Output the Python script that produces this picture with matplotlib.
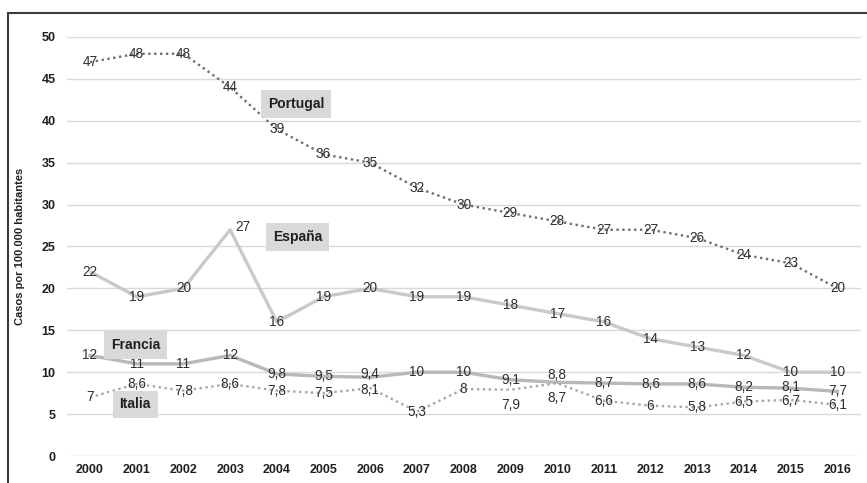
import numpy as np
import matplotlib.pyplot as plt
from matplotlib.lines import Line2D

plt.rcParams['font.family'] = ['Liberation Sans', 'DejaVu Sans']

years = ['2000', '2001', '2002', '2003', '2004', '2005', '2006', '2007', '2008',
         '2009', '2010', '2011', '2012', '2013', '2014', '2015', '2016']
portugal = [47, 48, 48, 44, 39, 36, 35, 32, 30, 29, 28, 27, 27, 26, 24, 23, 20]
espana = [22, 19, 20, 27, 16, 19, 20, 19, 19, 18, 17, 16, 14, 13, 12, 10, 10]
francia = [12, 11, 11, 12, 9.8, 9.5, 9.4, 10, 10, 9.1, 8.8, 8.7, 8.6, 8.6, 8.2, 8.1, 7.7]
italia = [7, 8.6, 7.8, 8.6, 7.8, 7.5, 8.1, 5.3, 8, 7.9, 8.7, 6.6, 6, 5.8, 6.5, 6.7, 6.1]


def fmt(v):
    s = ('%g' % v).replace('.', ',')
    return s


fig = plt.figure(figsize=(8.67, 4.83), dpi=100)
ax = fig.add_axes([0.0768, 0.0559, 0.916, 0.8675])
x = np.arange(len(years))

ax.plot(x, espana, color='#c9c9c9', lw=2.4, solid_capstyle='butt', zorder=2)
ax.plot(x, francia, color='#b8b8b8', lw=2.4, zorder=2)
ax.plot(x, italia, color='#a6a6a6', lw=1.7, ls=(0, (1, 1.5)), zorder=2)
ax.plot(x, portugal, color='#6e6e6e', lw=1.7, ls=(0, (1, 1.5)), zorder=3)

# label offsets in points (dx, dy) where label is not centred on the point
offsets = {('esp', 3): (9, 2), ('ita', 9): (0, -11), ('ita', 10): (0, -11),
           ('fra', 10): (0, 5), ('fra', 6): (0, 2), ('ita', 6): (0, -1),
           ('fra', 15): (0, 1), ('ita', 15): (0, -1)}
for key, serie in [('por', portugal), ('esp', espana), ('fra', francia), ('ita', italia)]:
    for i, v in enumerate(serie):
        dx, dy = offsets.get((key, i), (0, 0))
        ax.annotate(fmt(v), (x[i], v), xytext=(dx, dy), textcoords='offset points',
                    ha='center', va='center', fontsize=9.8, color='#303030', zorder=4)

boxes = [('Portugal', 4.41, 42.0), ('España', 4.44, 26.1),
         ('Francia', 0.98, 13.2), ('Italia', 0.97, 6.15)]
for name, bx, by in boxes:
    ax.text(bx, by, name, fontsize=10, fontweight='bold', color='#202020',
            ha='center', va='center', zorder=5,
            bbox=dict(boxstyle='square,pad=0.5', fc='#d9d9d9', ec='none'))

ax.set_xlim(-0.5, len(years) - 0.5)
ax.set_ylim(0, 50)
ax.set_yticks(range(0, 51, 5))
ax.set_xticks(x)
ax.set_xticklabels(years)
ax.grid(axis='y', color='#d9d9d9', lw=1)
ax.set_axisbelow(True)
for s in ax.spines.values():
    s.set_visible(False)
ax.tick_params(length=0, labelsize=9, colors='#202020')
ax.tick_params(axis='y', pad=8)
ax.tick_params(axis='x', pad=6)
for t in ax.get_xticklabels() + ax.get_yticklabels():
    t.set_fontweight('bold')
ax.set_ylabel('Casos por 100.000 habitantes', fontsize=8, fontweight='bold',
              color='#202020', labelpad=12)

# frame lines top and left
fig.add_artist(Line2D([8 / 867, 1], [1 - 13 / 483, 1 - 13 / 483], color='#3c3c3c', lw=1.5))
fig.add_artist(Line2D([8 / 867, 8 / 867], [0, 1 - 13 / 483], color='#3c3c3c', lw=1.5))

fig.savefig('out.png', dpi=100)
